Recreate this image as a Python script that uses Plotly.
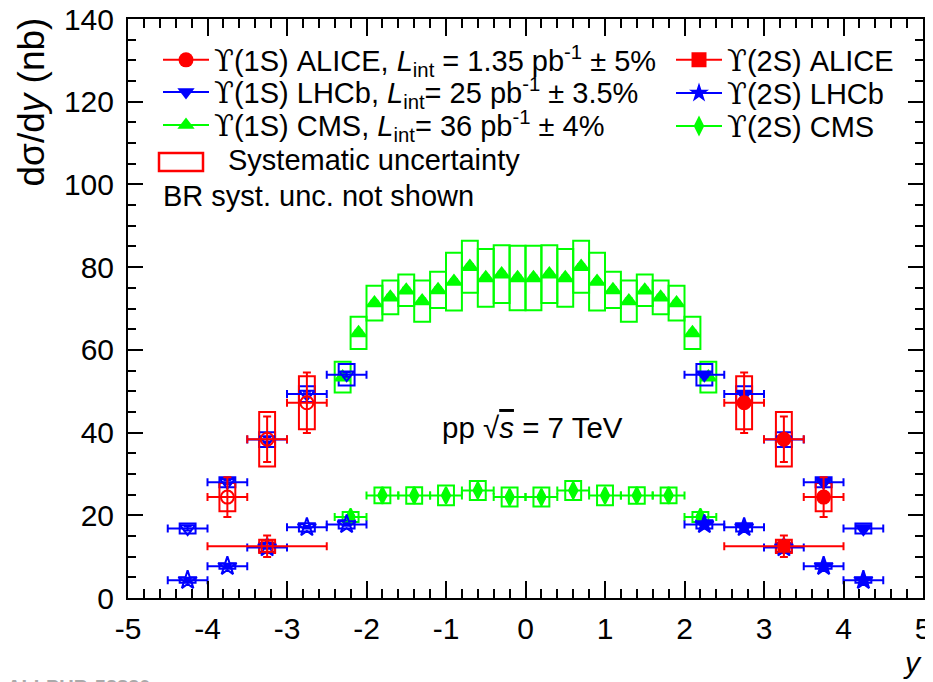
import plotly.graph_objects as go

# ---------------- data ----------------
# Upsilon(1S) ALICE
alice1s_y = [-3.75, -3.25, -2.75, 2.75, 3.25, 3.75]
alice1s_v = [24.4, 38.4, 47.2, 47.2, 38.4, 24.4]
alice1s_stat = [4.8, 5.5, 7.3, 7.3, 5.5, 4.8]
alice1s_sys = [3.4, 6.6, 6.4, 6.4, 6.6, 3.4]
alice1s_xerr = [0.25, 0.25, 0.25, 0.25, 0.25, 0.25]

# Upsilon(1S) LHCb
lhcb1s_y = [-4.25, -3.75, -3.25, -2.75, -2.25, 2.25, 2.75, 3.25, 3.75, 4.25]
lhcb1s_v = [16.8, 28.0, 38.3, 49.3, 54.0, 54.0, 49.3, 38.3, 28.0, 16.8]
lhcb1s_stat = [0.5, 0.5, 0.6, 0.6, 0.5, 0.5, 0.6, 0.6, 0.5, 0.5]
lhcb1s_sys = [1.2, 1.2, 1.8, 1.9, 2.6, 2.6, 1.9, 1.8, 1.2, 1.2]
lhcb1s_xerr = [0.25] * 10

# Upsilon(1S) CMS
cms1s_y = [-2.3, -2.1, -1.9, -1.7, -1.5, -1.3, -1.1, -0.9, -0.7, -0.5, -0.3, -0.1,
           0.1, 0.3, 0.5, 0.7, 0.9, 1.1, 1.3, 1.5, 1.7, 1.9, 2.1, 2.3]
cms1s_v = [53.4, 64.1, 71.3, 72.7, 74.4, 71.8, 74.5, 76.5, 80.1, 77.4, 78.3, 77.4,
           77.4, 78.3, 77.4, 80.1, 76.5, 74.5, 71.8, 74.4, 72.7, 71.3, 64.1, 53.4]
cms1s_stat = [0.6] * 24
cms1s_sys = [3.7, 3.9, 4.2, 4.1, 3.8, 5.0, 4.4, 7.0, 6.3, 7.0, 7.0, 7.8,
             7.8, 7.0, 7.0, 6.3, 7.0, 4.4, 5.0, 3.8, 4.1, 4.2, 3.9, 3.7]

# Upsilon(2S) ALICE
alice2s_y = [-3.25, 3.25]
alice2s_v = [12.5, 12.5]
alice2s_stat = [2.6, 2.6]
alice2s_sys = [1.6, 1.6]
alice2s_xerr = [0.75, 0.75]

# Upsilon(2S) LHCb
lhcb2s_y = [-4.25, -3.75, -3.25, -2.75, -2.25, 2.25, 2.75, 3.25, 3.75, 4.25]
lhcb2s_v = [4.3, 7.7, 12.2, 17.1, 17.8, 17.8, 17.1, 12.2, 7.7, 4.3]
lhcb2s_stat = [0.3] * 10
lhcb2s_sys = [0.6, 0.6, 1.1, 1.0, 1.0, 1.0, 1.0, 1.1, 0.6, 0.6]
lhcb2s_xerr = [0.25] * 10

# Upsilon(2S) CMS
cms2s_y = [-2.2, -1.8, -1.4, -1.0, -0.6, -0.2, 0.2, 0.6, 1.0, 1.4, 1.8, 2.2]
cms2s_v = [19.6, 24.8, 24.8, 24.8, 26.0, 24.4, 24.4, 26.0, 24.8, 24.8, 24.8, 19.6]
cms2s_stat = [0.4] * 12
cms2s_sys = [1.2, 1.9, 2.0, 2.4, 2.3, 2.3, 2.3, 2.3, 2.4, 2.0, 1.9, 1.2]
cms2s_xerr = [0.2] * 12

x_tickvals = [-5, -4, -3, -2, -1, 0, 1, 2, 3, 4, 5]
x_ticktext = ["-5", "-4", "-3", "-2", "-1", "0", "1", "2", "3", "4", "5"]
y_tickvals = [0, 20, 40, 60, 80, 100, 120, 140]

# ---------------- style ----------------
RED, BLUE, GREEN = "#ff0000", "#0000ff", "#00ff00"
FONT = "Liberation Sans, Arial, Helvetica, sans-serif"
BOX_HW = 0.1
UPS = "<span style=\"font-family:'DejaVu Serif'\">ϒ</span>"

# page layout: plot frame spans x 128..923, y 19..597.7 of the 933x682 page
# (the page body adds an 8px offset, so the figure itself is 925x674)
OFF = 8
PL, PR, PT, PB = 128, 923, 19, 597.7
FIG_W, FIG_H = 933 - OFF, 682 - OFF

fig = go.Figure()


def sym(xs, filled, opened):
    return [opened if x < 0 else filled for x in xs]


def add_boxes(xs, vs, ss, color):
    for x, v, s in zip(xs, vs, ss):
        fig.add_shape(type="rect", xref="x", yref="y",
                      x0=x - BOX_HW, x1=x + BOX_HW, y0=v - s, y1=v + s,
                      line=dict(color=color, width=2),
                      fillcolor="rgba(0,0,0,0)", layer="below")


add_boxes(cms1s_y, cms1s_v, cms1s_sys, GREEN)
add_boxes(cms2s_y, cms2s_v, cms2s_sys, GREEN)
add_boxes(lhcb1s_y, lhcb1s_v, lhcb1s_sys, BLUE)
add_boxes(lhcb2s_y, lhcb2s_v, lhcb2s_sys, BLUE)
add_boxes(alice1s_y, alice1s_v, alice1s_sys, RED)
add_boxes(alice2s_y, alice2s_v, alice2s_sys, RED)


def add_data(xs, vs, stat, xerr, color, symbols, size):
    ex = dict(type="data", array=xerr, color=color, thickness=2, width=4) if xerr else None
    fig.add_trace(go.Scatter(
        x=xs, y=vs, mode="markers", showlegend=False,
        marker=dict(symbol=symbols, size=size, color=color,
                    line=dict(color=color, width=2)),
        error_y=dict(type="data", array=stat, color=color, thickness=2, width=4),
        error_x=ex, cliponaxis=False))


add_data(cms1s_y, cms1s_v, cms1s_stat, None, GREEN, "triangle-up", 13)
add_data(cms2s_y, cms2s_v, cms2s_stat, cms2s_xerr, GREEN, "diamond-tall", 12)
add_data(lhcb1s_y, lhcb1s_v, lhcb1s_stat, lhcb1s_xerr, BLUE,
         sym(lhcb1s_y, "triangle-down", "triangle-down-open"), 13)
add_data(lhcb2s_y, lhcb2s_v, lhcb2s_stat, lhcb2s_xerr, BLUE,
         sym(lhcb2s_y, "star", "star-open"), 14)
add_data(alice1s_y, alice1s_v, alice1s_stat, alice1s_xerr, RED,
         sym(alice1s_y, "circle", "circle-open"), 13)
add_data(alice2s_y, alice2s_v, alice2s_stat, alice2s_xerr, RED,
         sym(alice2s_y, "square", "square-open"), 11)

# ---------------- legend entries ----------------
legend_names = [
    UPS + "(1S) ALICE, <i>L</i><sub>int</sub> = 1.35 pb<sup>-1</sup> ± 5%",
    UPS + "(1S) LHCb, <i>L</i><sub>int</sub>= 25 pb<sup>-1</sup> ± 3.5%",
    UPS + "(1S) CMS, <i>L</i><sub>int</sub>= 36 pb<sup>-1</sup> ± 4%",
    UPS + "(2S) ALICE",
    UPS + "(2S) LHCb",
    UPS + "(2S) CMS",
]
legend_colors = [RED, BLUE, GREEN, RED, BLUE, GREEN]
legend_symbols = ["circle", "triangle-down", "triangle-up", "square", "star", "diamond-tall"]
legend_ids = ["legend", "legend2", "legend3", "legend4", "legend5", "legend6"]

for name, col, sy, lid in zip(legend_names, legend_colors, legend_symbols, legend_ids):
    fig.add_trace(go.Scatter(
        x=[None], y=[None], mode="lines+markers", name=name, legend=lid,
        line=dict(color=col, width=2),
        marker=dict(symbol=sy, size=15, color=col)))


def pap_x(px):
    return (px - PL) / (PR - PL)


def pap_y(py):
    return (PB - py) / (PB - PT)


leg_common = dict(font=dict(family=FONT, size=29, color="black"),
                  bgcolor="rgba(0,0,0,0)", borderwidth=0,
                  xanchor="left", yanchor="middle", itemwidth=46,
                  tracegroupgap=0)
left_x = pap_x(158)
right_x = pap_x(671)
legend_layout = {
    "legend": dict(x=left_x, y=pap_y(60), **leg_common),
    "legend2": dict(x=left_x, y=pap_y(92), **leg_common),
    "legend3": dict(x=left_x, y=pap_y(125), **leg_common),
    "legend4": dict(x=right_x, y=pap_y(60), **leg_common),
    "legend5": dict(x=right_x, y=pap_y(93), **leg_common),
    "legend6": dict(x=right_x, y=pap_y(126), **leg_common),
}

# systematic uncertainty key
fig.add_shape(type="rect", xref="paper", yref="paper",
              x0=pap_x(159), x1=pap_x(203), y0=pap_y(171), y1=pap_y(153),
              line=dict(color=RED, width=2.5), fillcolor="rgba(0,0,0,0)")

annotations = [
    dict(text="Systematic uncertainty", x=pap_x(226), y=pap_y(160),
         xanchor="left", yanchor="middle"),
    dict(text="BR syst. unc. not shown", x=pap_x(161), y=pap_y(196),
         xanchor="left", yanchor="middle"),
    dict(text="pp √<span style='text-decoration:overline'><i>s</i></span> = 7 TeV",
         x=pap_x(440), y=pap_y(427), xanchor="left", yanchor="middle",
         font=dict(family=FONT, size=29.5, color="black")),
    dict(text="d\u03c3/d<i>y</i> (nb)", x=pap_x(31), y=pap_y(16),
         xanchor="center", yanchor="top", textangle=-90,
         font=dict(family=FONT, size=37, color="black")),
    dict(text="<i>y</i>", x=pap_x(912), y=pap_y(662), xanchor="center",
         yanchor="middle", font=dict(family=FONT, size=30, color="black")),
    dict(text="<b>ALI-PUB-52830</b>", x=pap_x(5), y=pap_y(674), xanchor="left",
         yanchor="top", font=dict(family=FONT, size=20, color="#aaaaaa")),
]
for a in annotations:
    a.setdefault("font", dict(family=FONT, size=29, color="black"))
    a.update(xref="paper", yref="paper", showarrow=False)

axis_common = dict(showline=True, linecolor="black", linewidth=2, mirror="allticks",
                   ticks="inside", tickwidth=2, tickcolor="black",
                   showgrid=False, zeroline=False, automargin=False,
                   ticklabeloverflow="allow",
                   tickfont=dict(family=FONT, size=30, color="black"))

fig.update_layout(
    template="none",
    width=FIG_W, height=FIG_H,
    margin=dict(l=PL - OFF, r=933 - PR, t=PT - OFF, b=FIG_H - (PB - OFF), pad=0,
                autoexpand=False),
    paper_bgcolor="white", plot_bgcolor="white",
    xaxis=dict(range=[-5, 5], tickmode="array", tickvals=x_tickvals, ticktext=x_ticktext,
               ticklen=17, ticklabelstandoff=3,
               minor=dict(ticks="inside", ticklen=9, dtick=0.2, tickwidth=2, tickcolor="black"),
               **axis_common),
    yaxis=dict(range=[0, 140], tickmode="array", tickvals=y_tickvals,
               ticklen=15, ticklabelstandoff=6,
               minor=dict(ticks="inside", ticklen=8, dtick=5, tickwidth=2, tickcolor="black"),
               **axis_common),
    annotations=annotations,
    **legend_layout,
)

fig.write_html("out.html")
